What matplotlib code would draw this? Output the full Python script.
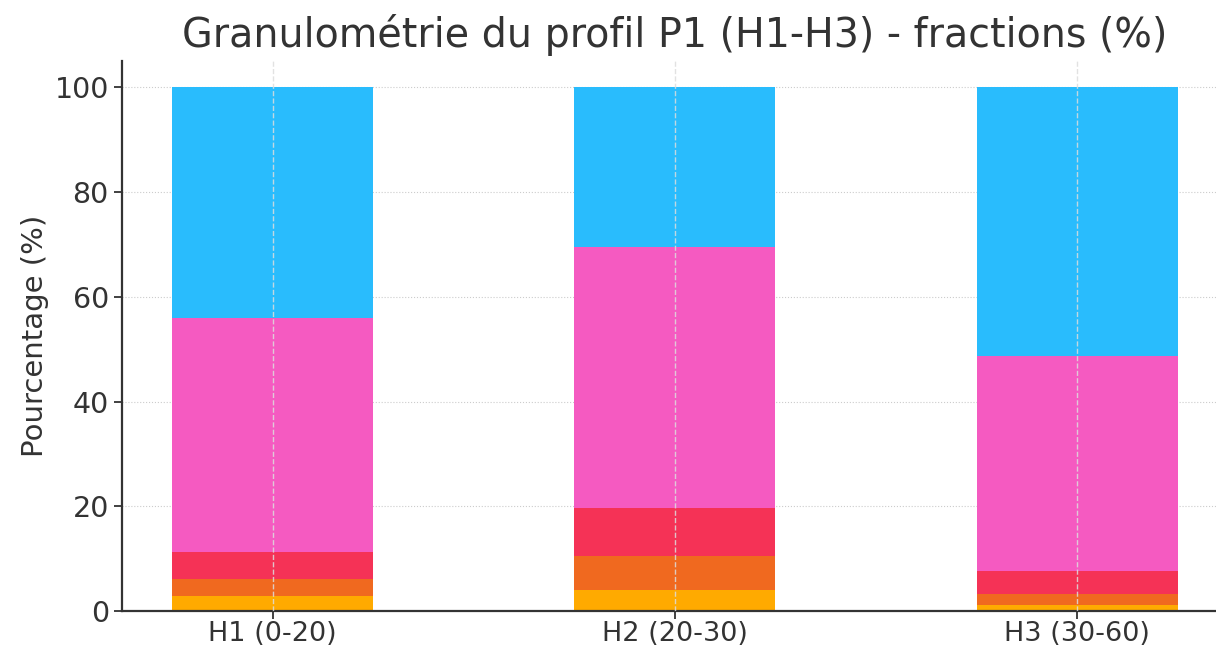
import matplotlib
matplotlib.use("Agg")
import matplotlib.pyplot as plt
import numpy as np

categories = ["H1 (0-20)", "H2 (20-30)", "H3 (30-60)"]
fraction_1 = [2.8, 4.0, 1.2]
fraction_2 = [3.3, 6.5, 2.1]
fraction_3 = [5.1, 9.2, 4.3]
fraction_4 = [44.8, 49.8, 41.1]
fraction_5 = [44.0, 30.5, 51.3]
series = [fraction_1, fraction_2, fraction_3, fraction_4, fraction_5]
colors = ["#FFAA00", "#F0691F", "#F53256", "#F55AC1", "#29BCFD"]

plt.rcParams['font.family'] = ['DejaVu Sans']
text_color = "#333333"

fig = plt.figure(figsize=(12.16, 6.46), dpi=100)
ax = fig.add_axes([0.1003, 0.0542, 0.9095, 0.851])

x = np.arange(len(categories))
bottom = np.zeros(len(categories))
for vals, c in zip(series, colors):
    ax.bar(x, vals, width=0.5, bottom=bottom, color=c, zorder=2)
    bottom += np.array(vals)

ax.set_xlim(-0.375, 2.375)
ax.set_ylim(0, 105)
ax.set_yticks([0, 20, 40, 60, 80, 100])
ax.set_xticks(x)
ax.set_xticklabels(categories)
ax.tick_params(axis='both', labelsize=20.5, colors=text_color, length=6, width=1.3)
ax.tick_params(axis='x', labelsize=19.5, pad=1)
ax.grid(axis='y', linestyle=':', color='#cccccc', linewidth=0.8, zorder=0)
ax.set_axisbelow(True)
for xi in x:
    ax.axvline(xi, linestyle='--', color='#dddddd', linewidth=1.0, alpha=0.85, zorder=3)
for s in ['top', 'right']:
    ax.spines[s].set_visible(False)
for s in ['left', 'bottom']:
    ax.spines[s].set_color(text_color)
    ax.spines[s].set_linewidth(1.6)
ax.set_ylabel("Pourcentage (%)", fontsize=21, color=text_color, labelpad=4)
ax.set_title("Granulométrie du profil P1 (H1-H3) - fractions (%)", fontsize=28.5,
             color=text_color, pad=10)

fig.savefig("out.png", dpi=100)
